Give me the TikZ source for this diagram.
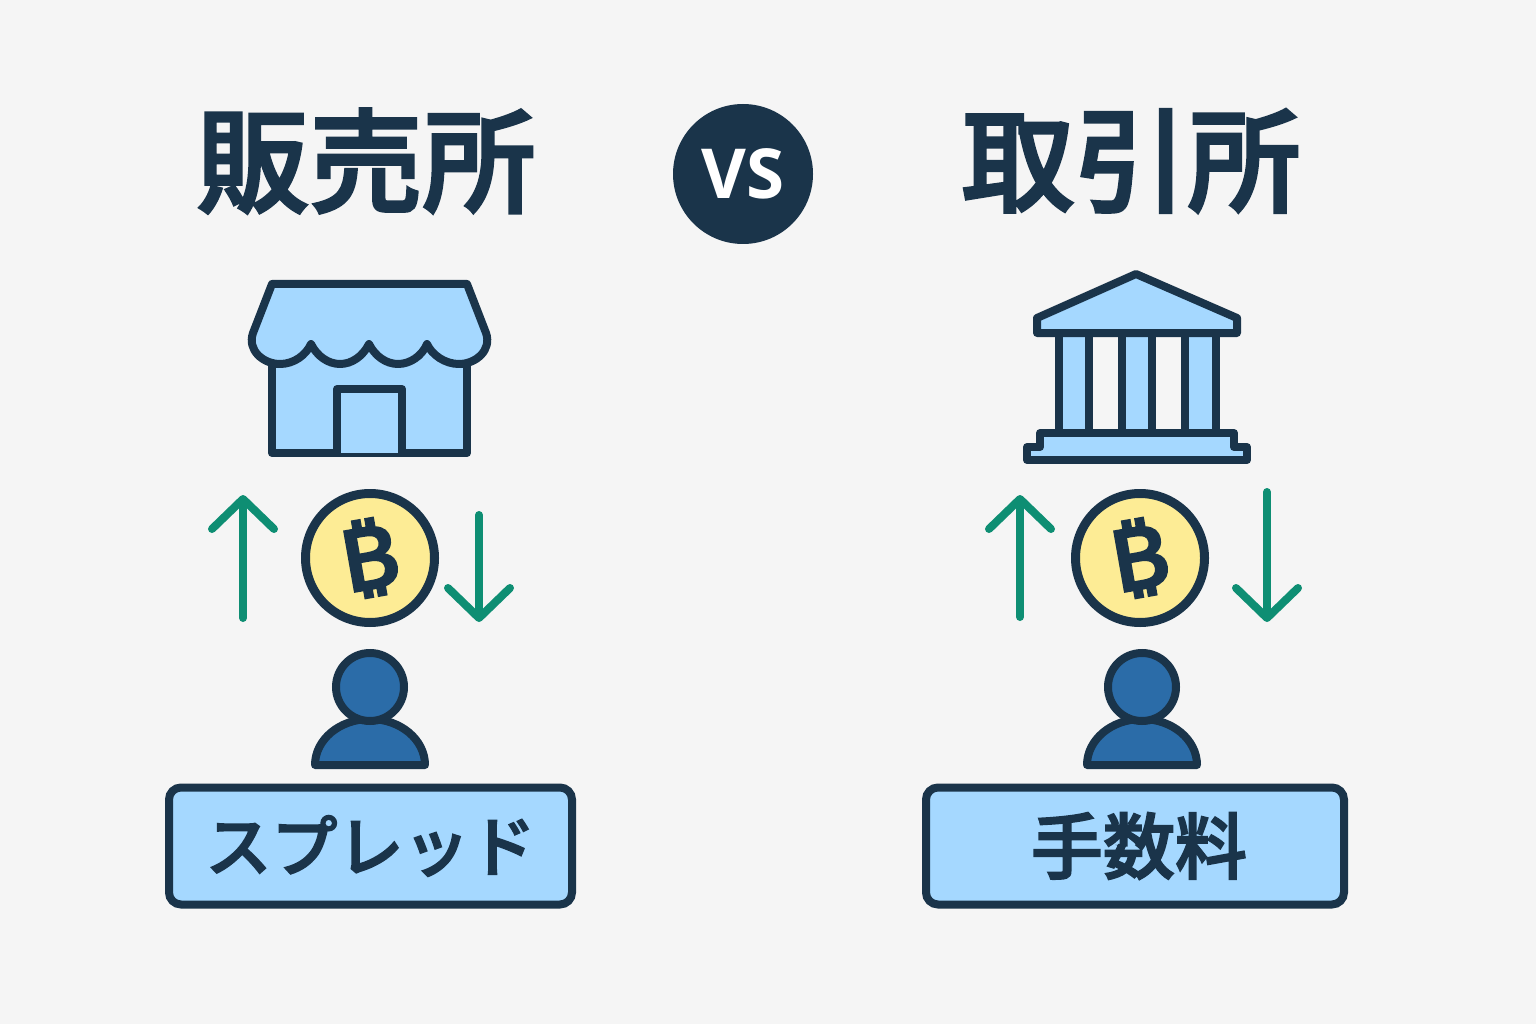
\documentclass[tikz,border=0pt]{standalone}
\usepackage{fontspec}
\newfontfamily\cjk[UprightFont = * Medium, FakeBold = 2.4]{Noto Sans CJK JP}
\newfontfamily\latinbold{Open Sans}
\newfontfamily\signfont[FakeBold = 4, FakeStretch = 1.2]{Noto Sans}
\usetikzlibrary{arrows.meta}
\definecolor{navy}{HTML}{1A344A}
\definecolor{skyblue}{HTML}{A5D8FF}
\definecolor{coinyellow}{HTML}{FDEC95}
\definecolor{userblue}{HTML}{2B6CA8}
\definecolor{tradegreen}{HTML}{0E8E73}
\definecolor{paper}{HTML}{F5F5F5}
\tikzset{
    icon/.style = {draw = navy, fill = skyblue, line width = 8pt, line join = round},
    coin/.style = {circle, draw = navy, fill = coinyellow, line width = 9pt, minimum size = 129pt, inner sep = 0pt, outer sep = 0pt},
    coinsign/.style = {text = navy, rotate = 10, font = \signfont\fontsize{84}{84}\selectfont},
    head/.style = {circle, draw = navy, fill = userblue, line width = 8pt, minimum size = 68pt, inner sep = 0pt},
    body/.style = {draw = navy, fill = userblue, line width = 8pt, line join = round},
    trade/.style = {draw = tradegreen, line width = 8pt, line cap = round, -{Straight Barb[round, length = 30pt, width = 62pt]}},
    title/.style = {text = navy, font = \cjk\fontsize{113}{113}\selectfont},
    costbox/.style = {draw = navy, fill = skyblue, line width = 8pt, rounded corners = 12pt, minimum height = 117pt, text = navy, font = \cjk\fontsize{72}{72}\selectfont},
}
\begin{document}
\begin{tikzpicture}[x = 1pt, y = -1pt]
    \useasboundingbox (0, 0) rectangle (1536, 1024);
    \fill [paper] (0, 0) rectangle (1536, 1024);
    % headings
    \node [title] (shop title) at (366, 161) {販売所};
    \node [title] (exchange title) at (1131, 161) {取引所};
    \node [circle, fill = navy, minimum size = 140pt, text = white, font = \latinbold\bfseries\fontsize{69}{69}\selectfont] (versus) at (743, 174) {VS};
    % store
    \draw [icon] (272, 340) -- (272, 453) -- (467, 453) -- (467, 340) -- cycle;
    \draw [icon] (337, 453) -- (337, 389) -- (402, 389) -- (402, 453);
    \draw [icon] (272, 284) -- (253, 333)
        .. controls (247, 350) and (263, 364) .. (280, 364)
        .. controls (294, 364) and (306, 355) .. (311, 344)
        .. controls (317, 356) and (328, 364) .. (340, 364)
        .. controls (352, 364) and (363, 356) .. (369, 344)
        .. controls (375, 356) and (386, 364) .. (398, 364)
        .. controls (410, 364) and (422, 356) .. (427, 344)
        .. controls (432, 355) and (445, 364) .. (459, 364)
        .. controls (476, 364) and (492, 350) .. (486, 333)
        -- (467, 284) -- cycle;
    % bank
    \foreach \left/\right in {1059/1089, 1122/1152, 1185/1216}
        \draw [icon] (\left, 333) rectangle (\right, 433);
    \draw [icon] (1136, 274) -- (1037, 318) -- (1037, 333) -- (1237, 333) -- (1237, 318) -- cycle;
    \draw [icon] (1040, 433) -- (1234, 433) -- (1234, 447) -- (1247, 447) -- (1247, 460) -- (1027, 460) -- (1027, 447) -- (1040, 447) -- cycle;
    % coins
    \node [coin] (shop coin) at (370, 558) {};
    \node [coinsign] (shop sign) at (369, 558) {₿};
    \node [coin] (exchange coin) at (1140, 558) {};
    \node [coinsign] (exchange sign) at (1139, 558) {₿};
    % arrows
    \coordinate (shop up start) at (243, 618);
    \coordinate (shop up end) at (243, 495);
    \coordinate (shop down start) at (479, 515);
    \coordinate (shop down end) at (479, 622);
    \coordinate (exchange up start) at (1020, 617);
    \coordinate (exchange up end) at (1020, 495);
    \coordinate (exchange down start) at (1267, 492);
    \coordinate (exchange down end) at (1267, 622);
    \draw [trade] (shop up start) -- (shop up end);
    \draw [trade] (shop down start) -- (shop down end);
    \draw [trade] (exchange up start) -- (exchange up end);
    \draw [trade] (exchange down start) -- (exchange down end);
    % users
    \draw [body] (315, 765) arc [start angle = 180, end angle = 0, x radius = 55, y radius = -46] -- cycle;
    \node [head] (shop user) at (370, 687) {};
    \draw [body] (1087, 765) arc [start angle = 180, end angle = 0, x radius = 55, y radius = -46] -- cycle;
    \node [head] (exchange user) at (1142, 687) {};
    % cost labels
    \node [costbox, minimum width = 403pt, font = \cjk\fontsize{66}{66}\selectfont] (spread) at (370.5, 846) {スプレッド};
    \node [costbox, minimum width = 418pt] (fee) at (1135, 846) {\hspace{8pt}手数料};
\end{tikzpicture}
\end{document}
